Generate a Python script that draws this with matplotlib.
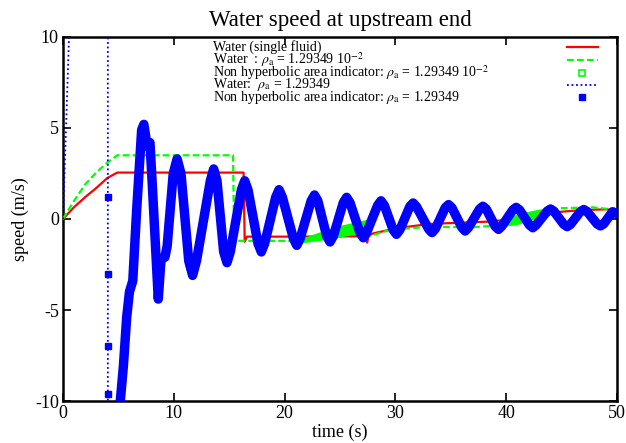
import matplotlib
matplotlib.use("Agg")
import matplotlib.pyplot as plt
from matplotlib.lines import Line2D

plt.rcParams['font.family'] = ['Liberation Serif', 'DejaVu Serif']
plt.rcParams['mathtext.fontset'] = 'stix'
plt.rcParams['axes.unicode_minus'] = False

# ---- data ----
# single fluid (red)
red_t = [0, 1, 2, 3, 4, 4.9, 16.3, 16.4, 16.6, 20, 27.3, 27.45, 27.6, 28, 30.1, 33.1,
         36, 38.2, 40, 42, 44, 45, 47, 49.1, 50]
red_v = [0, 0.65, 1.2, 1.7, 2.25, 2.55, 2.55, -1.25, -0.97, -0.97, -0.95, -1.3, -0.9, -0.79, -0.51, -0.27,
         -0.2, -0.15, -0.05, 0.1, 0.3, 0.4, 0.5, 0.53, 0.45]

# rho_a = 1.29349e-2 (green dashed)
green_t = [0, 1, 2, 3, 4, 4.9, 15.35, 15.45, 21.1, 24.5, 27.4, 27.6, 29.5, 33.1, 36.7, 38.8,
           41, 43, 44.9, 47.8, 50]
green_v = [0, 1.0, 1.9, 2.55, 3.1, 3.5, 3.5, -1.2, -1.2, -0.75, -0.2, -0.95, -0.6, -0.42, -0.46, -0.38,
           0.0, 0.3, 0.59, 0.64, 0.5]

# non hyperbolic areas for rho_a = 1.29349e-2 (green bands)
band1_t = [21.1, 24.5, 27.4]
band1_lo = [-1.35, -1.06, -0.7]
band1_hi = [-1.15, -0.42, -0.02]
band2_t = [39.3, 41, 43, 44.5]
band2_lo = [-0.45, -0.3, 0.05, 0.3]
band2_hi = [-0.3, 0.3, 0.55, 0.6]

# rho_a = 1.29349 (blue)
blue_early_t = [0, 0.6, 4.05, 4.05, 5.1]
blue_early_v = [0, 11, 11, -11, -11]
blue_t = [5.1, 5.45, 5.75, 6.0, 6.3, 6.65, 7.1, 7.3, 7.6, 7.85, 8.05, 8.6, 8.85, 9.2, 9.4,
          9.95, 10.3, 10.65, 11.35, 11.7, 12.05, 13.3, 13.6, 13.9, 14.5, 14.8, 15.1,
          16.1, 16.4, 16.7, 17.6, 17.9, 18.2, 19.2, 19.5, 19.8, 20.8, 21.1, 21.4,
          22.4, 22.7, 23.0, 23.8, 24.1, 24.4, 25.3, 25.6, 25.9, 26.8, 27.1, 27.4,
          28.4, 28.7, 29.0, 29.8, 30.1, 30.4, 31.3, 31.6, 31.9, 33.0, 33.3, 33.6,
          34.5, 34.8, 35.1, 36.0, 36.3, 36.6, 37.6, 37.9, 38.2, 39.0, 39.3, 39.6,
          40.6, 40.9, 41.2, 42.1, 42.4, 42.7, 43.7, 44.0, 44.3, 45.2, 45.5, 45.8,
          46.7, 47.0, 47.3, 48.2, 48.5, 48.8, 49.6, 50]
blue_v = [-10.5, -8.1, -5.4, -4.0, -3.4, 0.5, 4.9, 5.2, 4.0, 4.2, 2.0, -4.4, -2.2, -2.1, -1.5,
          2.5, 3.3, 2.5, -2.3, -3.1, -2.3, 2.1, 2.75, 2.1, -1.8, -2.4, -1.8,
          1.6, 2.1, 1.6, -1.35, -1.81, -1.35, 1.2, 1.61, 1.2, -1.08, -1.45, -1.08,
          1.0, 1.32, 1.0, -0.94, -1.26, -0.94, 0.9, 1.19, 0.9, -0.75, -1.03, -0.75,
          0.75, 1.0, 0.75, -0.6, -0.84, -0.6, 0.68, 0.88, 0.68, -0.55, -0.75, -0.55,
          0.62, 0.79, 0.62, -0.47, -0.66, -0.47, 0.55, 0.70, 0.55, -0.4, -0.57, -0.4,
          0.5, 0.64, 0.5, -0.33, -0.48, -0.33, 0.43, 0.55, 0.43, -0.3, -0.42, -0.3,
          0.41, 0.52, 0.41, -0.27, -0.38, -0.27, 0.4, 0.3]
blue_sq_t = [4.05, 4.05, 4.05, 4.05]
blue_sq_v = [1.2, -3.0, -7.0, -9.6]

labels = ["Water (single fluid)",
          r"Water  : $\rho_{\rm a}$ = 1.29349 10$^{-2}$",
          r"Non hyperbolic area indicator: $\rho_{\rm a}$ = 1.29349 10$^{-2}$",
          r"Water:  $\rho_{\rm a}$ = 1.29349",
          r"Non hyperbolic area indicator: $\rho_{\rm a}$ = 1.29349"]

RED, GREEN, BLUE = '#ff0000', '#00ff00', '#0000ff'

fig = plt.figure(figsize=(6.26, 4.43), dpi=100)
ax = fig.add_axes([0.1006, 0.0948, 0.8850, 0.8217])

ax.plot(red_t, red_v, color=RED, lw=1.6, zorder=3)
ax.plot(green_t, green_v, color=GREEN, lw=1.6, dashes=(3, 1.5), zorder=3)
ax.fill_between(band1_t, band1_lo, band1_hi, color=GREEN, lw=0, zorder=3)
ax.fill_between(band2_t, band2_lo, band2_hi, color=GREEN, lw=0, zorder=3)
ax.plot(blue_early_t + blue_t, blue_early_v + blue_v, color=BLUE, lw=1.3, ls=(0, (1, 1.5)), zorder=4)
ax.plot(blue_t, blue_v, color=BLUE, lw=6.8, solid_joinstyle='round', zorder=5)
ax.plot(blue_sq_t, blue_sq_v, 's', color=BLUE, ms=4.5, zorder=5)

ax.set_xlim(0, 50)
ax.set_ylim(-10, 10)
ax.set_xticks([0, 10, 20, 30, 40, 50])
ax.set_yticks([-10, -5, 0, 5, 10])
ax.tick_params(direction='in', length=6, width=1.2, top=True, right=True, labelsize=13, pad=3)
for s in ax.spines.values():
    s.set_linewidth(1.8)
ax.set_xlabel("time (s)", fontsize=13, labelpad=1)
ax.set_ylabel("speed (m/s)", fontsize=13, labelpad=4)
ax.set_title("Water speed at upstream end", fontsize=16.5, pad=8)

# legend, gnuplot style: text left, samples right
leg_y = [0.972, 0.937, 0.901, 0.869, 0.834]
styles = [dict(color=RED, lw=1.6),
          dict(color=GREEN, lw=1.6, dashes=(3, 1.5)),
          dict(color=GREEN, marker='s', ls='none', ms=4, mfc='white', mew=1.2),
          dict(color=BLUE, lw=1.3, ls=(0, (1, 1.5))),
          dict(color=BLUE, marker='s', ls='none', ms=4.5)]
for y, lab, st in zip(leg_y, labels, styles):
    ax.text(0.271, y, lab, transform=ax.transAxes, fontsize=10, va='center', ha='left', zorder=6)
    if 'marker' in st:
        ax.add_line(Line2D([0.937], [y], transform=ax.transAxes, **st))
    else:
        ax.add_line(Line2D([0.91, 0.965], [y, y], transform=ax.transAxes, **st))

fig.savefig("out.png", dpi=100)
